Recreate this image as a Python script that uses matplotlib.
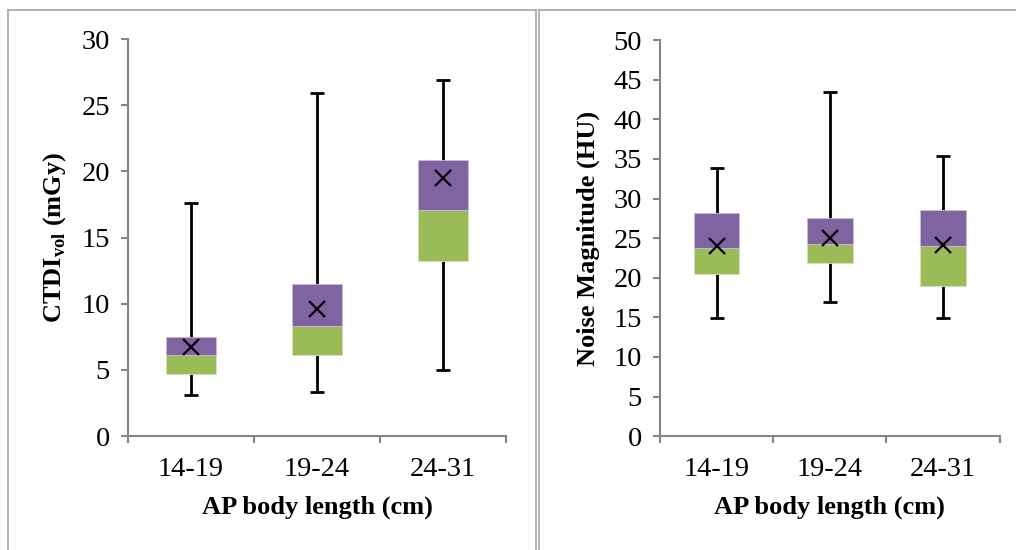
import matplotlib
matplotlib.use('Agg')
import matplotlib.pyplot as plt
from matplotlib.lines import Line2D

plt.rcParams['font.family'] = ['Liberation Serif', 'DejaVu Serif']
plt.rcParams['mathtext.fontset'] = 'custom'
plt.rcParams['mathtext.rm'] = 'Liberation Serif'
plt.rcParams['mathtext.bf'] = 'Liberation Serif:bold'

# data
groups = ['14-19', '19-24', '24-31']

ctdi_min = [3.1, 3.3, 5.0]
ctdi_q1 = [4.7, 6.1, 13.2]
ctdi_med = [6.1, 8.3, 17.1]
ctdi_q3 = [7.5, 11.5, 20.9]
ctdi_max = [17.6, 25.9, 26.9]
ctdi_mean = [6.7, 9.6, 19.5]

noise_min = [14.9, 17.0, 14.9]
noise_q1 = [20.5, 21.8, 19.0]
noise_med = [23.8, 24.2, 24.0]
noise_q3 = [28.2, 27.5, 28.6]
noise_max = [33.8, 43.5, 35.4]
noise_mean = [24.0, 25.0, 24.1]

GREEN = '#9BBB59'
PURPLE = '#8064A2'
AXIS = '#868686'


def draw_box(ax, mins, q1, med, q3, maxs, means, ymax, ystep, ylabel):
    x = list(range(len(groups)))
    lo = [m - a for m, a in zip(med, mins)]
    hi = [b - m for m, b in zip(med, maxs)]
    ax.errorbar(x, med, yerr=[lo, hi], fmt='none', ecolor='black',
                elinewidth=2, capsize=5, capthick=2, zorder=1)
    ax.bar(x, [m - a for m, a in zip(med, q1)], bottom=q1, width=0.4,
           color=GREEN, edgecolor='#d4e3bd', linewidth=0.6, zorder=2)
    ax.bar(x, [b - m for m, b in zip(med, q3)], bottom=med, width=0.4,
           color=PURPLE, edgecolor='#c9bcdb', linewidth=0.6, zorder=2)
    ax.plot(x, means, linestyle='none', marker='x', color='black',
            markersize=11, markeredgewidth=1.6, zorder=3)

    ax.set_xlim(-0.5, len(groups) - 0.5)
    ax.set_ylim(0, ymax)
    ax.set_yticks(range(0, ymax + 1, ystep))
    ax.set_xticks(x)
    ax.set_xticklabels(groups)
    ax.set_xticks([i - 0.5 for i in range(len(groups) + 1)], minor=True)
    ax.tick_params(axis='x', which='major', length=0, pad=15, labelsize=20.5)
    ax.tick_params(axis='x', which='minor', length=5, width=1.5, color=AXIS)
    ax.tick_params(axis='y', length=5, width=1.5, color=AXIS, pad=8,
                   labelsize=20.5)
    for s in ['top', 'right']:
        ax.spines[s].set_visible(False)
    for s in ['left', 'bottom']:
        ax.spines[s].set_color(AXIS)
        ax.spines[s].set_linewidth(1.5)
    ax.set_xlabel('AP body length (cm)', fontsize=19, fontweight='bold',
                  labelpad=10)
    ax.set_ylabel(ylabel, fontsize=19, fontweight='bold', labelpad=10)


fig = plt.figure(figsize=(10.16, 5.5), dpi=100)

ax1 = fig.add_axes([0.126, 0.207, 0.372, 0.722])
draw_box(ax1, ctdi_min, ctdi_q1, ctdi_med, ctdi_q3, ctdi_max, ctdi_mean,
         30, 5, r'CTDI$_{\mathbf{vol}}$ (mGy)')

ax2 = fig.add_axes([0.6496, 0.207, 0.3344, 0.72])
draw_box(ax2, noise_min, noise_q1, noise_med, noise_q3, noise_max,
         noise_mean, 50, 5, 'Noise Magnitude (HU)')

# panel borders
W, H = 1016, 550
border = '#a6a6a6'
for xs, ys in [([8, 8], [0, 540]), ([8, 536], [540, 540]),
               ([536, 536], [0, 540]), ([539, 539], [0, 540]),
               ([539, 1016], [540, 540])]:
    fig.add_artist(Line2D([v / W for v in xs], [v / H for v in ys],
                          color=border, linewidth=1.2))

fig.savefig('out.png', dpi=100)
